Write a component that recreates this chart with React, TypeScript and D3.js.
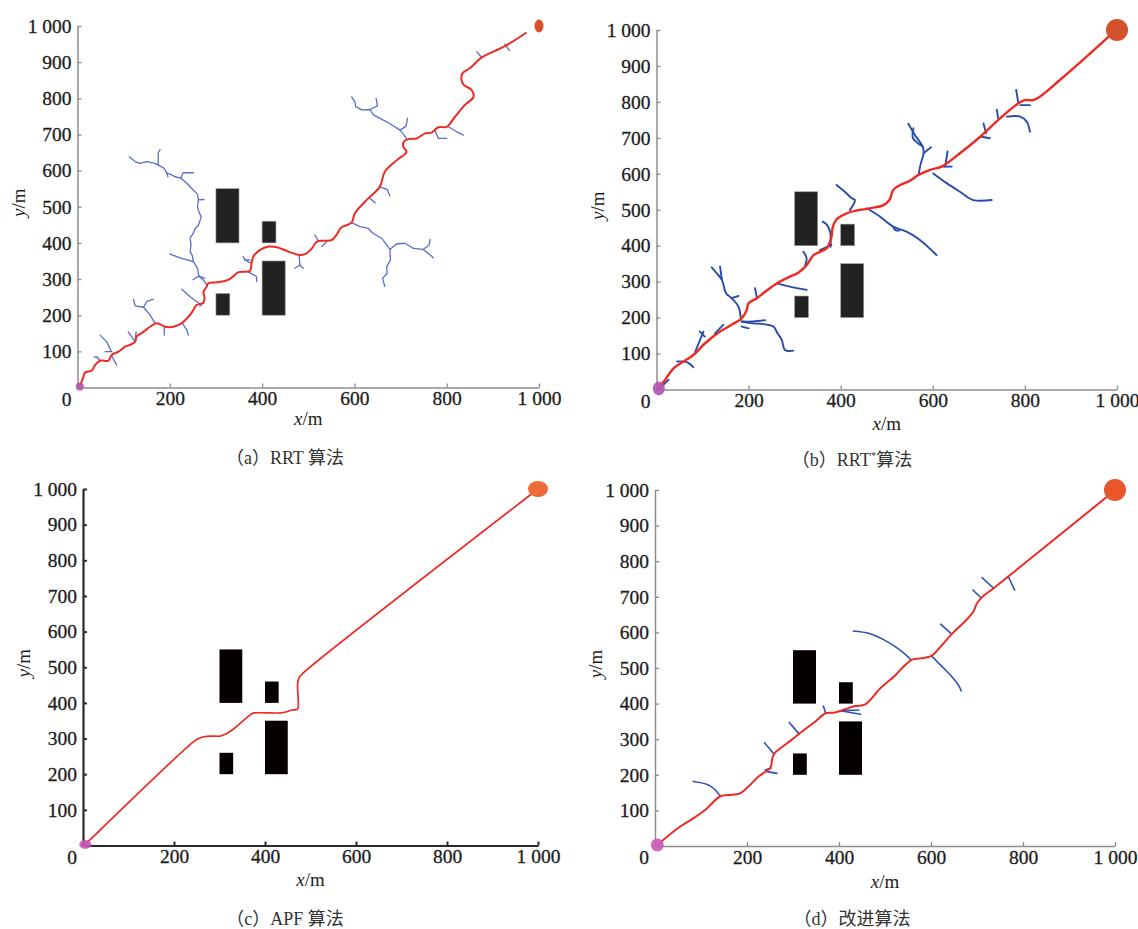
import React, { useEffect, useRef } from "react";
import * as d3 from "d3";

type Pt = [number, number];

// axis ticks
const xTicks = [200, 400, 600, 800, 1000];
const xTickLabels = ["200", "400", "600", "800", "1 000"];
const yTicks = [100, 200, 300, 400, 500, 600, 700, 800, 900, 1000];
const yTickLabels = ["100", "200", "300", "400", "500", "600", "700", "800", "900", "1 000"];

// obstacles: [x0, y0, x1, y1] in metres
const obstacles: number[][] = [
  [300, 400, 350, 550],
  [400, 400, 430, 460],
  [300, 200, 330, 260],
  [400, 200, 450, 350],
];

const startPoint: Pt = [5, 3];
const goalPoint: Pt = [1000, 1000];

// (a) RRT
const rrtPath: Pt[] = [
  [5, 3], [13, 30], [16, 41], [31, 47], [38, 62], [49, 74], [67, 74], [74, 90], [89, 99], [103, 113],
  [114, 118], [125, 127], [128, 141], [143, 154], [157, 168], [172, 178], [190, 168], [208, 168],
  [226, 178], [237, 191], [249, 210], [258, 228], [273, 235], [275, 251], [273, 265], [280, 279],
  [283, 288], [302, 291], [323, 296], [334, 304], [349, 319], [374, 323], [377, 343], [381, 362],
  [395, 380], [414, 390], [432, 388], [457, 376], [479, 367], [493, 369], [508, 385], [518, 403],
  [536, 406], [551, 408], [561, 422], [572, 443], [594, 456], [601, 482], [630, 523], [655, 555],
  [666, 597], [692, 629], [713, 652], [706, 666], [707, 680], [717, 687], [735, 689], [753, 703],
  [767, 705], [782, 720], [800, 721], [818, 749], [839, 781], [858, 804], [854, 823], [837, 837],
  [832, 851], [834, 869], [850, 883], [876, 913], [901, 929], [930, 947], [973, 982],
];
const rrtTree: Pt[][] = [
  [[280, 283], [273, 297], [263, 308], [260, 330], [251, 348], [249, 364], [244, 376], [246, 394],
    [244, 413], [251, 427], [255, 440], [262, 449], [268, 472], [263, 486], [260, 500], [262, 519],
    [260, 535], [247, 551], [237, 565], [224, 579], [211, 583], [204, 588], [193, 594], [188, 606],
    [175, 615], [168, 620], [150, 625], [135, 620], [125, 625], [112, 638]],
  [[251, 348], [226, 357], [200, 369]],
  [[263, 308], [250, 298]],
  [[263, 308], [276, 302]],
  [[262, 519], [274, 520]],
  [[224, 579], [229, 594], [251, 594]],
  [[175, 615], [175, 650], [179, 658]],
  [[193, 594], [196, 583]],
  [[49, 74], [42, 85], [36, 84]],
  [[74, 99], [63, 127], [49, 145]],
  [[74, 99], [60, 99]],
  [[74, 88], [85, 62]],
  [[125, 127], [110, 154]],
  [[125, 127], [127, 154]],
  [[168, 178], [157, 201], [143, 222], [125, 226], [121, 244]],
  [[143, 222], [150, 238], [164, 244]],
  [[188, 168], [188, 145]],
  [[227, 178], [237, 159], [240, 145]],
  [[265, 231], [244, 251], [226, 272]],
  [[377, 343], [363, 353], [359, 362]],
  [[363, 353], [374, 353]],
  [[370, 320], [388, 307], [388, 293]],
  [[480, 367], [482, 339], [471, 330]],
  [[482, 339], [489, 330]],
  [[713, 689], [699, 712], [670, 735], [641, 754], [634, 769], [616, 768], [603, 777], [601, 791], [594, 804]],
  [[634, 769], [650, 779], [647, 800]],
  [[699, 712], [712, 723], [715, 745]],
  [[774, 712], [782, 689], [800, 689]],
  [[803, 722], [821, 708], [836, 698]],
  [[865, 929], [876, 913]],
  [[926, 950], [936, 932]],
  [[655, 555], [671, 548], [677, 530]],
  [[634, 523], [645, 511]],
  [[514, 422], [522, 406]],
  [[529, 390], [540, 403]],
  [[594, 456], [612, 445], [630, 440], [641, 426], [659, 413], [677, 382], [691, 397], [709, 399],
    [728, 385], [749, 382], [760, 371], [771, 359]],
  [[749, 382], [762, 394], [764, 410]],
  [[677, 382], [678, 353], [670, 334], [671, 316], [661, 302], [666, 279]],
  [[273, 235], [265, 225]],
];

// (b) RRT*
const rrtStarPath: Pt[] = [
  [5, 3], [18, 26], [37, 59], [55, 75], [80, 96], [105, 128], [134, 158], [163, 180], [185, 198],
  [196, 221], [200, 240], [218, 254], [236, 272], [261, 295], [290, 314], [308, 325], [326, 346],
  [341, 374], [355, 383], [370, 393], [380, 425], [383, 453], [391, 473], [413, 490], [435, 498],
  [464, 504], [493, 513], [506, 527], [514, 555], [529, 569], [551, 581], [569, 597], [594, 611],
  [619, 620], [659, 657], [703, 703], [746, 754], [786, 796], [800, 805], [818, 805], [833, 815],
  [876, 861], [934, 926], [985, 985],
];
const rrtStarTree: Pt[][] = [
  [[15, 13], [26, 27]],
  [[45, 78], [66, 76], [80, 62]],
  [[84, 105], [102, 161]],
  [[94, 161], [105, 147]],
  [[127, 156], [145, 180]],
  [[183, 198], [180, 223], [176, 235], [163, 254], [151, 268], [142, 305], [131, 323], [120, 340]],
  [[142, 305], [138, 342]],
  [[163, 254], [178, 260]],
  [[185, 189], [210, 189], [236, 193]],
  [[185, 189], [210, 184], [232, 182], [254, 175], [262, 158], [272, 138], [279, 110], [297, 108]],
  [[185, 175], [200, 170]],
  [[214, 282], [218, 254]],
  [[261, 295], [290, 286], [326, 277]],
  [[319, 383], [326, 365], [323, 346]],
  [[361, 467], [370, 458], [377, 439], [378, 397]],
  [[355, 388], [380, 402]],
  [[391, 569], [409, 550], [424, 532], [431, 527], [420, 499]],
  [[457, 504], [485, 481], [514, 453], [543, 439], [572, 416], [608, 374]],
  [[514, 453], [518, 444], [527, 442]],
  [[601, 601], [630, 574], [659, 550], [688, 527], [728, 527]],
  [[569, 597], [574, 629], [580, 657], [578, 676], [561, 708], [547, 739]],
  [[580, 657], [596, 674]],
  [[578, 676], [557, 699], [558, 727]],
  [[627, 620], [632, 662]],
  [[619, 620], [641, 620]],
  [[710, 740], [716, 713]],
  [[706, 703], [724, 699]],
  [[742, 754], [739, 778]],
  [[761, 759], [790, 759], [804, 745], [811, 717]],
  [[786, 796], [781, 833]],
  [[790, 791], [811, 791]],
];

// (c) APF
const apfPath: Pt[] = [
  [5, 3], [242, 290], [254, 300], [266, 305], [282, 307], [302, 307], [314, 313], [330, 326],
  [372, 370], [378, 372], [435, 372], [447, 375], [459, 380], [471, 382], [473, 386], [472, 459],
  [476, 473], [483, 483], [1000, 1000],
];

// (d) improved
const improvedPath: Pt[] = [
  [5, 3], [54, 54], [80, 75], [109, 101], [141, 139], [159, 143], [185, 148], [203, 167], [225, 195],
  [246, 214], [252, 223], [255, 246], [261, 262], [272, 274], [297, 298], [319, 321], [348, 349],
  [371, 373], [391, 375], [413, 384], [435, 393], [457, 398], [490, 443], [522, 479], [538, 501],
  [558, 523], [577, 527], [601, 534], [621, 560], [645, 595], [673, 630], [692, 658], [700, 682],
  [712, 700], [736, 724], [768, 757], [998, 997],
];
const improvedTree: Pt[][] = [
  [[143, 139], [120, 169], [83, 181]],
  [[188, 150], [197, 159]],
  [[244, 209], [265, 204]],
  [[252, 218], [240, 214]],
  [[259, 258], [238, 290]],
  [[313, 315], [292, 347]],
  [[371, 373], [366, 393]],
  [[403, 380], [443, 382]],
  [[403, 380], [447, 370]],
  [[557, 523], [530, 553], [498, 579], [466, 597], [431, 604]],
  [[601, 534], [621, 508], [645, 476], [657, 457], [666, 436]],
  [[645, 595], [621, 623]],
  [[708, 698], [691, 719]],
  [[736, 724], [711, 754]],
  [[768, 757], [782, 719]],
];

const panels = [
  {
    id: "a", left: 77.5, right: 539, top: 26, bottom: 387.5, capX: 285, capY: 464, xLabY: 425,
    label: "（a）", name: "RRT", sup: "", tail: " 算法",
    path: rrtPath, tree: rrtTree, treeColor: "#5a6ec8", treeWidth: 1.3, pathWidth: 2,
    axisColor: "#8e8e8e", axisWidth: 1.5, obsColor: "#222222",
    goal: { rx: 4.5, ry: 6.5, fill: "#d6502c" }, start: { rx: 4, ry: 4, fill: "#b452ae" },
  },
  {
    id: "b", left: 656.5, right: 1117, top: 30, bottom: 389.5, capX: 852, capY: 466, xLabY: 430,
    label: "（b）", name: "RRT", sup: "*", tail: "算法",
    path: rrtStarPath, tree: rrtStarTree, treeColor: "#284caa", treeWidth: 1.9, pathWidth: 2.4,
    axisColor: "#8e8e8e", axisWidth: 1.5, obsColor: "#222222",
    goal: { rx: 11, ry: 11, fill: "#d4522b" }, start: { rx: 6, ry: 7, fill: "#b055b4" },
  },
  {
    id: "c", left: 83, right: 538, top: 489, bottom: 845.5, capX: 285, capY: 925, xLabY: 886,
    label: "（c）", name: "APF", sup: "", tail: " 算法",
    path: apfPath, tree: [] as Pt[][], treeColor: "#284caa", treeWidth: 1.5, pathWidth: 1.7,
    axisColor: "#2a2a2a", axisWidth: 2.2, obsColor: "#050000",
    goal: { rx: 10, ry: 8, fill: "#ee6a3a" }, start: { rx: 6, ry: 4.5, fill: "#c657b6" },
  },
  {
    id: "d", left: 655, right: 1115, top: 490, bottom: 846, capX: 852, capY: 925, xLabY: 888,
    label: "（d）", name: "改进算法", sup: "", tail: "",
    path: improvedPath, tree: improvedTree, treeColor: "#2d52b2", treeWidth: 1.6, pathWidth: 2,
    axisColor: "#8e8e8e", axisWidth: 1.5, obsColor: "#050000",
    goal: { rx: 11, ry: 11, fill: "#e8562a" }, start: { rx: 6.5, ry: 6.5, fill: "#c95ab8" },
  },
];

const serif = "'Liberation Serif', 'Times New Roman', serif";
const cjk = "'Liberation Serif', 'Noto Sans CJK SC', serif";
const ink = "#1c1c1c";

export default function App() {
  const ref = useRef<SVGSVGElement>(null);

  useEffect(() => {
    const svg = d3.select(ref.current);
    svg.selectAll("*").remove();

    panels.forEach((p) => {
      const x = d3.scaleLinear().domain([0, 1000]).range([p.left, p.right]);
      const y = d3.scaleLinear().domain([0, 1000]).range([p.bottom, p.top]);
      const g = svg.append("g").attr("class", "panel-" + p.id);

      // axes, ticks pointing inward
      const xAxis = g.append("g")
        .attr("transform", `translate(0,${p.bottom})`)
        .call(d3.axisBottom(x).tickValues(xTicks).tickSizeInner(-4).tickSizeOuter(0).tickPadding(4)
          .tickFormat((d, i) => xTickLabels[i]));
      const yAxis = g.append("g")
        .attr("transform", `translate(${p.left},0)`)
        .call(d3.axisLeft(y).tickValues(yTicks).tickSizeInner(-4).tickSizeOuter(0).tickPadding(6)
          .tickFormat((d, i) => yTickLabels[i]));
      [xAxis, yAxis].forEach((a) => {
        a.attr("font-family", serif).attr("font-size", 19.5);
        a.select(".domain").attr("stroke", p.axisColor).attr("stroke-width", p.axisWidth);
        a.selectAll(".tick line").attr("stroke", p.axisColor).attr("stroke-width", p.axisWidth * 0.9);
        a.selectAll(".tick text").attr("fill", ink).attr("stroke", ink).attr("stroke-width", 0.3);
      });
      g.append("text")
        .attr("x", x(0) - 11).attr("y", p.bottom + 18)
        .attr("text-anchor", "middle").attr("font-family", serif).attr("font-size", 19.5)
        .attr("fill", ink).attr("stroke", ink).attr("stroke-width", 0.3).text("0");

      // axis titles
      const xt = g.append("text")
        .attr("x", (p.left + p.right) / 2).attr("y", p.xLabY)
        .attr("text-anchor", "middle").attr("font-family", serif).attr("font-size", 19)
        .attr("fill", ink);
      xt.append("tspan").attr("font-style", "italic").text("x");
      xt.append("tspan").text("/m");
      const yt = g.append("text")
        .attr("transform", `translate(${p.left - 53},${(p.top + p.bottom) / 2 - 4}) rotate(-90)`)
        .attr("text-anchor", "middle").attr("font-family", serif).attr("font-size", 19)
        .attr("fill", ink);
      yt.append("tspan").attr("font-style", "italic").text("y");
      yt.append("tspan").text("/m");

      // obstacles
      g.selectAll("rect.obs")
        .data(obstacles)
        .join("rect")
        .attr("class", "obs")
        .attr("x", (d) => x(d[0]))
        .attr("y", (d) => y(d[3]))
        .attr("width", (d) => x(d[2]) - x(d[0]))
        .attr("height", (d) => y(d[1]) - y(d[3]))
        .attr("fill", p.obsColor)
        .attr("stroke", p.id === "a" || p.id === "b" ? "#9a9a9a" : "none")
        .attr("stroke-width", 0.6);

      const line = d3.line<Pt>()
        .x((d) => x(d[0]))
        .y((d) => y(d[1]));

      // search tree
      g.selectAll("path.tree")
        .data(p.tree)
        .join("path")
        .attr("class", "tree")
        .attr("d", (d) => (p.id === "a" ? line.curve(d3.curveLinear) : line.curve(d3.curveCatmullRom.alpha(0.5)))(d))
        .attr("fill", "none")
        .attr("stroke", p.treeColor)
        .attr("stroke-width", p.treeWidth)
        .attr("stroke-linejoin", "round")
        .attr("stroke-linecap", "round");

      // planned path
      g.append("path")
        .datum(p.path)
        .attr("d", line.curve(d3.curveCatmullRom.alpha(0.5)))
        .attr("fill", "none")
        .attr("stroke", "#ee2a24")
        .attr("stroke-width", p.pathWidth)
        .attr("stroke-linejoin", "round");

      // start and goal
      g.append("ellipse")
        .attr("cx", x(startPoint[0])).attr("cy", y(startPoint[1]))
        .attr("rx", p.start.rx).attr("ry", p.start.ry)
        .attr("fill", p.start.fill).attr("opacity", 0.9);
      g.append("ellipse")
        .attr("cx", x(goalPoint[0])).attr("cy", y(goalPoint[1]))
        .attr("rx", p.goal.rx).attr("ry", p.goal.ry)
        .attr("fill", p.goal.fill);

      // caption
      const cap = g.append("text")
        .attr("x", p.capX).attr("y", p.capY)
        .attr("text-anchor", "middle").attr("font-family", cjk).attr("font-size", 18)
        .attr("fill", "#333");
      cap.append("tspan").text(p.label);
      cap.append("tspan").text(p.name);
      if (p.sup) cap.append("tspan").attr("font-size", 11).attr("dy", -7).text(p.sup);
      if (p.tail) cap.append("tspan").attr("dy", p.sup ? 7 : 0).text(p.tail);
    });
  }, []);

  return (
    <svg
      ref={ref}
      width={1138}
      height={929}
      style={{ position: "absolute", left: 0, top: 0, background: "#fff" }}
    />
  );
}
